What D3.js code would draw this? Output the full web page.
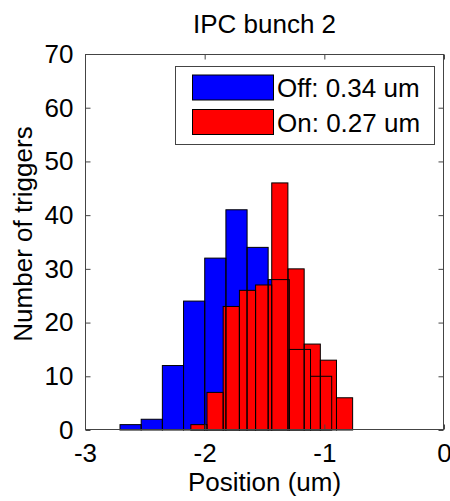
<!DOCTYPE html>
<html>
<head>
<meta charset="utf-8">
<script src="https://cdn.jsdelivr.net/npm/d3@7"></script>
<style>
  html, body { margin: 0; padding: 0; background: #fff; }
  svg { display: block; }
  text { font-family: "Liberation Sans", Arial, sans-serif; fill: #000; }
</style>
</head>
<body>
<svg id="chart" width="450" height="501"></svg>
<script>
// ---- data ----
const title = "IPC bunch 2";
const xLabel = "Position (um)";
const yLabel = "Number of triggers";
const seriesNames = ["Off: 0.34 um", "On: 0.27 um"];
const seriesColors = ["#0000ff", "#ff0000"];

const offCenters = [-2.619, -2.442, -2.265, -2.088, -1.911, -1.734, -1.558, -1.381, -1.204, -1.027];
const offCounts  = [1, 2, 12, 24, 32, 41, 34, 28, 15, 10];

const onCenters = [-2.048, -1.913, -1.778, -1.642, -1.507, -1.372, -1.236, -1.101, -0.966, -0.831];
const onCounts  = [1, 7, 23, 26, 27, 46, 30, 16, 13, 6];

const xTicks = [-3, -2, -1, 0];
const xTickLabels = ["-3", "-2", "-1", "0"];
const yTicks = [0, 10, 20, 30, 40, 50, 60, 70];

// ---- layout ----
const svg = d3.select("#chart");
const mLeft = 85, mRight = 444, mTop = 54, mBottom = 430;
const x = d3.scaleLinear().domain([-3, 0]).range([mLeft, mRight]);
const y = d3.scaleLinear().domain([0, 70]).range([mBottom, mTop]);
const FS = 26;
const axisColor = "#444";

function bins(centers, counts) {
  const w = centers[1] - centers[0];
  return centers.map((c, i) => ({ x0: c - w / 2, x1: c + w / 2, v: counts[i] }));
}
const series = [bins(offCenters, offCounts), bins(onCenters, onCounts)];

// fills first (off then on), then all outlines on top
const g = svg.append("g");
series.forEach((s, k) => {
  g.append("g").selectAll("rect").data(s).join("rect")
    .attr("x", d => x(d.x0))
    .attr("y", d => y(d.v))
    .attr("width", d => x(d.x1) - x(d.x0))
    .attr("height", d => y(0) - y(d.v))
    .attr("fill", seriesColors[k]);
});
series.forEach((s, k) => {
  g.append("g").selectAll("rect").data(s).join("rect")
    .attr("x", d => x(d.x0))
    .attr("y", d => y(d.v))
    .attr("width", d => x(d.x1) - x(d.x0))
    .attr("height", d => y(0) - y(d.v))
    .attr("fill", "none")
    .attr("stroke", "#000")
    .attr("stroke-width", 1);
});

// axes box
svg.append("rect")
  .attr("x", mLeft + 0.5).attr("y", mTop + 0.5)
  .attr("width", mRight - mLeft - 1).attr("height", mBottom - mTop - 1)
  .attr("fill", "none").attr("stroke", axisColor).attr("stroke-width", 1);

// x axis
const xAxis = d3.axisBottom(x).tickValues(xTicks)
  .tickFormat((d, i) => xTickLabels[i]).tickSizeInner(-5).tickSizeOuter(0).tickPadding(14);
const gx = svg.append("g").attr("transform", `translate(0,${mBottom - 0.5})`).call(xAxis);
gx.select(".domain").remove();
gx.selectAll("line").attr("stroke", axisColor);
gx.selectAll("text").attr("font-size", FS).attr("font-family", "Liberation Sans, Arial, sans-serif");
const xTop = d3.axisTop(x).tickValues(xTicks).tickFormat("").tickSizeInner(-5).tickSizeOuter(0);
const gxt = svg.append("g").attr("transform", `translate(0,${mTop + 0.5})`).call(xTop);
gxt.select(".domain").remove();
gxt.selectAll("line").attr("stroke", axisColor);

// y axis
const yAxis = d3.axisLeft(y).tickValues(yTicks).tickSizeInner(-5).tickSizeOuter(0).tickPadding(12);
const gy = svg.append("g").attr("transform", `translate(${mLeft + 0.5},0)`).call(yAxis);
gy.select(".domain").remove();
gy.selectAll("line").attr("stroke", axisColor);
gy.selectAll("text").attr("font-size", FS).attr("font-family", "Liberation Sans, Arial, sans-serif");
const yRight = d3.axisRight(y).tickValues(yTicks).tickFormat("").tickSizeInner(-5).tickSizeOuter(0);
const gyr = svg.append("g").attr("transform", `translate(${mRight - 0.5},0)`).call(yRight);
gyr.select(".domain").remove();
gyr.selectAll("line").attr("stroke", axisColor);

// title & labels
svg.append("text").attr("x", (mLeft + mRight) / 2).attr("y", 33)
  .attr("text-anchor", "middle").attr("font-size", FS).text(title);
svg.append("text").attr("x", (mLeft + mRight) / 2).attr("y", 491)
  .attr("text-anchor", "middle").attr("font-size", FS).text(xLabel);
svg.append("text").attr("transform", `translate(32,${(mTop + mBottom) / 2 - 8}) rotate(-90)`)
  .attr("text-anchor", "middle").attr("font-size", FS).text(yLabel);

// legend
const lg = svg.append("g");
lg.append("rect").attr("x", 175.5).attr("y", 66.5).attr("width", 259).attr("height", 78)
  .attr("fill", "#fff").attr("stroke", axisColor).attr("stroke-width", 1);
seriesNames.forEach((name, i) => {
  const cy = 87.5 + i * 34.5;
  lg.append("rect").attr("x", 192.5).attr("y", cy - 12.5).attr("width", 81).attr("height", 25)
    .attr("fill", seriesColors[i]).attr("stroke", "#000").attr("stroke-width", 1);
  lg.append("text").attr("x", 277).attr("y", cy + 9.5).attr("font-size", FS).text(name);
});
</script>
</body>
</html>
